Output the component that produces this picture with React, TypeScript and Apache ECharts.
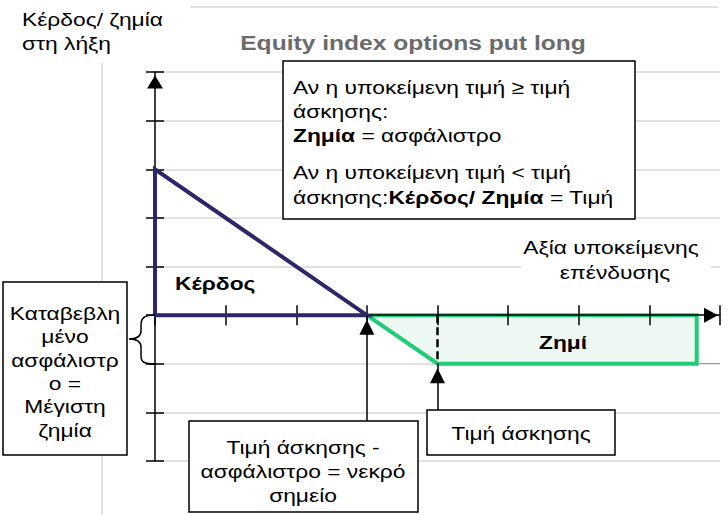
import React, { useEffect, useRef } from "react";
import * as echarts from "echarts";

// ---- data ----
const X_MIN = 0;
const X_MAX = 8;
const Y_MIN = -3;
const Y_MAX = 5;
const profitTriangle: number[][] = [[0, 0], [0, 3], [3, 0], [0, 0]];
const lossZone: number[][] = [[3, 0], [4, -1], [7.67, -1], [7.67, 0], [3, 0]];
const strikeMarker: number[][] = [[4, 0], [4, -1]];
const breakEvenPoint = [3, 0];
const strikePoint = [4, -1];

// ---- texts ----
const titleText = "Equity index options put long";
const yAxisTitle = ["Κέρδος/ ζημία", "στη λήξη"];
const xAxisTitle = ["Αξία υποκείμενης", "επένδυσης"];
const ruleLines = [
  "Αν η υποκείμενη τιμή ≥ τιμή",
  "άσκησης:",
  "{b|Ζημία} = ασφάλιστρο",
  "Αν η υποκείμενη τιμή < τιμή",
  "άσκησης:{b|Κέρδος/ Ζημία} = Τιμή",
];
const premiumLines = ["Καταβεβλη", "μένο", "ασφάλιστρ", "ο =", "Μέγιστη", "ζημία"];
const breakEvenLines = ["Τιμή άσκησης -", "ασφάλιστρο = νεκρό", "σημείο"];
const strikeLabel = "Τιμή άσκησης";
const profitLabel = "Κέρδος";
const lossLabel = "Ζημί";

const FONT = "'Liberation Sans', Arial, sans-serif";
const NAVY = "#2B2768";
const GREEN = "#1FCC78";
const MINT = "#EEF8F3";
const GRIDC = "#D9D9D9";
const FS = 19;
const SX = 1.2;

const font = (size: number, bold = false) => `${bold ? "bold " : ""}${size}px ${FONT}`;

const txt = (text: string, x: number, y: number, align = "left", extra: any = {}, sx = SX) => ({
  type: "text",
  z: 30,
  x,
  y,
  scaleX: sx,
  style: {
    text,
    x: 0,
    y: 0,
    fill: "#000",
    font: font(FS),
    textAlign: align,
    textVerticalAlign: "middle",
    align,
    verticalAlign: "middle",
    rich: { b: { font: font(FS, true), fill: "#000" } },
    ...extra,
  },
});

const box = (x: number, y: number, w: number, h: number) => ({
  type: "rect",
  z: 25,
  shape: { x, y, width: w, height: h },
  style: { fill: "#fff", stroke: "#000", lineWidth: 1.5 },
});

export default function App() {
  const ref = useRef<HTMLDivElement>(null);

  useEffect(() => {
    if (!ref.current) return;
    echarts.graphic.registerShape(
      "brace",
      echarts.graphic.extendPath(
        "M155,315 C144,315 141,318 141,325 L141,331 C141,336 137,339 129,339 C137,339 141,342 141,347 L141,356 C141,362 144,364 155,364",
        {}
      )
    );
    const chart = echarts.init(ref.current, null, { renderer: "svg" });

    const gridPos = { left: 155, right: 8, top: 72, bottom: 54 };
    const tickStyle = { color: "#000", width: 1.5 };

    const option: any = {
      animation: false,
      backgroundColor: "#fff",
      grid: [gridPos, gridPos],
      xAxis: [
        {
          gridIndex: 0,
          type: "value",
          min: X_MIN,
          max: X_MAX,
          interval: 1,
          z: 2,
          axisLine: {
            show: true,
            onZero: true,
            lineStyle: { color: "#000", width: 1.5 },
            symbol: ["none", "triangle"],
            symbolSize: [15, 14],
            symbolOffset: [0, -9],
          },
          axisTick: { show: true, inside: false, length: 10, lineStyle: tickStyle },
          axisLabel: { show: false },
          splitLine: { show: false },
        },
        {
          gridIndex: 1,
          type: "value",
          min: X_MIN,
          max: X_MAX,
          interval: 1,
          z: 2,
          axisLine: { show: false, onZero: true },
          axisTick: { show: true, inside: true, length: 10, lineStyle: tickStyle },
          axisLabel: { show: false },
          splitLine: { show: false },
        },
      ],
      yAxis: [
        {
          gridIndex: 0,
          type: "value",
          min: Y_MIN,
          max: Y_MAX,
          interval: 1,
          z: 0,
          axisLine: {
            show: true,
            onZero: true,
            lineStyle: { color: "#000", width: 1.5 },
            symbol: ["none", "triangle"],
            symbolSize: [16, 13],
            symbolOffset: [0, -10],
          },
          axisTick: { show: true, inside: false, length: 9, lineStyle: tickStyle },
          axisLabel: { show: false },
          splitLine: { show: true, lineStyle: { color: GRIDC, width: 1.5 } },
        },
        {
          gridIndex: 1,
          type: "value",
          min: Y_MIN,
          max: Y_MAX,
          interval: 1,
          z: 0,
          axisLine: { show: false, onZero: true },
          axisTick: { show: true, inside: true, length: 9, lineStyle: tickStyle },
          axisLabel: { show: false },
          splitLine: { show: false },
        },
      ],
      series: [
        {
          type: "line",
          xAxisIndex: 0,
          yAxisIndex: 0,
          z: 1,
          data: lossZone,
          symbol: "none",
          lineStyle: { color: GREEN, width: 4, join: "miter" },
          areaStyle: { color: MINT, opacity: 1 },
          silent: true,
        },
        {
          type: "line",
          xAxisIndex: 0,
          yAxisIndex: 0,
          z: 3,
          data: profitTriangle,
          symbol: "none",
          lineStyle: { color: NAVY, width: 4, join: "miter" },
          silent: true,
        },
        {
          type: "line",
          xAxisIndex: 0,
          yAxisIndex: 0,
          z: 4,
          data: strikeMarker,
          symbol: "none",
          lineStyle: { color: "#000", width: 2.5, type: [8, 4] },
          silent: true,
          markLine: {
            silent: true,
            symbol: ["none", "triangle"],
            symbolSize: [15, 15],
            symbolOffset: [[0, 0], [0, 12]],
            label: { show: false },
            lineStyle: { color: "#000", width: 1.5, type: "solid" },
            data: [
              [{ coord: breakEvenPoint, y: 421 }, { coord: breakEvenPoint }],
              [{ coord: strikePoint, y: 410 }, { coord: strikePoint }],
            ],
          },
        },
      ],
      graphic: [
        { type: "line", z: 1, shape: { x1: 190, y1: 7, x2: 718, y2: 7 }, style: { stroke: GRIDC, lineWidth: 1.5 } },
        { type: "line", z: 1, shape: { x1: 102, y1: 63, x2: 102, y2: 515 }, style: { stroke: GRIDC, lineWidth: 1.5 } },
        { type: "line", z: 1, shape: { x1: 697, y1: 363.5, x2: 720, y2: 363.5 }, style: { stroke: "#7F9FDA", lineWidth: 1 } },
        txt(titleText, 413, 43, "center", { font: font(20, true), fill: "#6B6B6B" }, 1.23),
        txt(yAxisTitle[0], 22, 19),
        txt(yAxisTitle[1], 22, 43),
        { type: "rect", z: 5, shape: { x: 521, y: 236, width: 190, height: 48 }, style: { fill: "#fff" } },
        txt(xAxisTitle[0], 611, 247, "center"),
        txt(xAxisTitle[1], 615, 272, "center"),
        box(283, 61, 352, 158),
        txt(ruleLines[0], 293, 87),
        txt(ruleLines[1], 293, 111),
        txt(ruleLines[2], 293, 135),
        txt(ruleLines[3], 293, 172),
        txt(ruleLines[4], 293, 197),
        txt(profitLabel, 175, 283, "left", { font: font(FS, true) }),
        txt(lossLabel, 539, 342, "left", { font: font(FS, true) }),
        { type: "rect", z: 31, shape: { x: 535, y: 352, width: 66, height: 9 }, style: { fill: MINT } },
        box(3, 282, 124, 173),
        ...premiumLines.map((l, i) => txt(l, 65, 313 + i * 23.4, "center")),
        box(189, 421, 229, 91),
        ...breakEvenLines.map((l, i) => txt(l, 303, 447 + i * 24, "center")),
        box(427, 410, 188, 45),
        txt(strikeLabel, 521, 433, "center"),
        { type: "brace", z: 20, x: 0, y: 0, style: { fill: "none", stroke: "#000", lineWidth: 1.5 } },
      ],
    };
    chart.setOption(option);
    return () => chart.dispose();
  }, []);

  return (
    <div
      ref={ref}
      style={{ position: "fixed", left: 0, top: 0, width: 728, height: 515, background: "#fff" }}
    />
  );
}
